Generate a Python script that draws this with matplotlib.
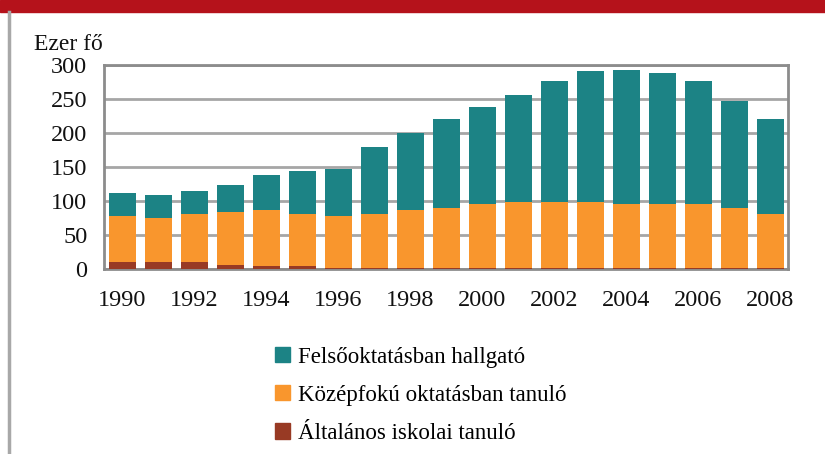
import numpy as np
import matplotlib.pyplot as plt
from matplotlib.patches import Rectangle
from matplotlib.lines import Line2D

years = list(range(1990, 2009))
altalanos = [10, 10, 10, 6, 4, 4, 1, 1, 1, 1, 1, 1, 1, 1, 1, 1, 1, 1, 1]
kozepfoku = [68, 65, 71, 78, 83, 77, 77, 80, 86, 89, 95, 98, 98, 98, 95, 95, 95, 89, 80]
felso = [34, 34, 34, 39, 51, 63, 69, 98, 113, 131, 142, 157, 178, 192, 196, 192, 181, 157, 140]

labels = ['Felsőoktatásban hallgató', 'Középfokú oktatásban tanuló', 'Általános iskolai tanuló']
colors = ['#1c8385', '#f9962d', '#983a24']

plt.rcParams['font.family'] = ['Liberation Serif', 'DejaVu Serif']

fig = plt.figure(figsize=(8.25, 4.54), dpi=100)
ax = fig.add_axes([104/825, 1-269/454, 684/825, 204/454])

x = np.arange(len(years))
alt = np.array(altalanos)
koz = np.array(kozepfoku)
fel = np.array(felso)
w = 0.75
ax.bar(x, alt, w, color=colors[2], zorder=3)
ax.bar(x, koz, w, bottom=alt, color=colors[1], zorder=3)
ax.bar(x, fel, w, bottom=alt + koz, color=colors[0], zorder=3)

ax.set_xlim(-0.5, len(years) - 0.5)
ax.set_ylim(0, 300)
ax.set_yticks(range(0, 301, 50))
ax.set_xticks(x[::2])
ax.set_xticklabels([str(y) for y in years[::2]])
ax.tick_params(length=0, labelsize=17.5, colors='#111111')
ax.tick_params(axis='x', pad=15)
ax.tick_params(axis='y', pad=12)
ax.yaxis.grid(True, color='#a6a6a6', linewidth=2, zorder=1)
for s in ax.spines.values():
    s.set_color('#8c8c8c')
    s.set_linewidth(2)

fig.text(34/825, 1-45/454, 'Ezer fő', fontsize=17, va='center', ha='left', color='#111111')

# red band and left rule
fig.patches.append(Rectangle((0, 1-12/454), 1, 12/454, transform=fig.transFigure,
                             color='#b5121b', zorder=0))
fig.lines.append(Line2D([9/825, 9/825], [0, 1-12/454], transform=fig.transFigure,
                        color='#a8a8a8', linewidth=2.5))

handles = [Rectangle((0, 0), 1, 1, color=c) for c in colors]
fig.legend(handles, labels, loc='upper left', bbox_to_anchor=(254/825, 1-326/454),
           frameon=False, fontsize=16.5, handlelength=0.65, handleheight=0.65,
           handletextpad=0.35, labelspacing=0.75)

fig.savefig('out.png', dpi=100)
